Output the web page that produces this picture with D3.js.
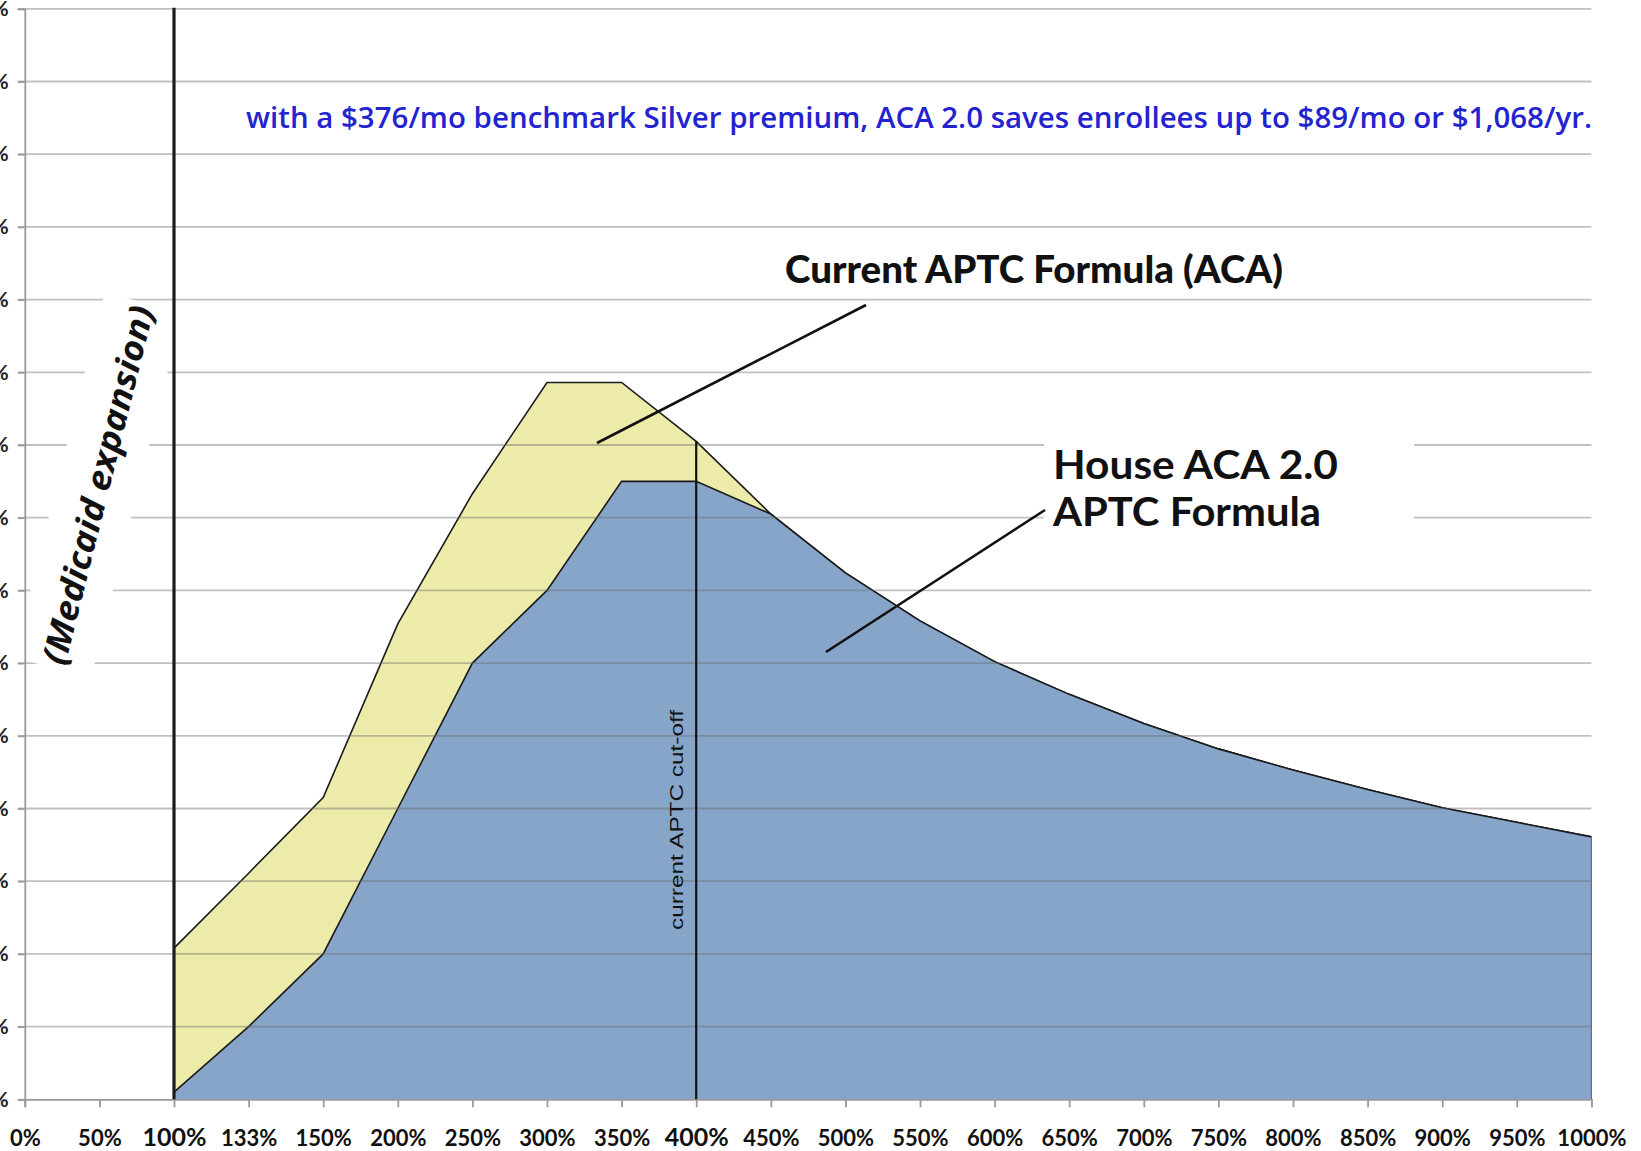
<!DOCTYPE html>
<html>
<head>
<meta charset="utf-8">
<script src="https://cdn.jsdelivr.net/npm/d3@7"></script>
<style>
  body { margin: 0; background: #fff; }
  svg { display: block; }
</style>
</head>
<body>
<div id="chart"></div>
<script>
// Income as % of poverty level (bottom axis categories)
var categories = ["0%", "50%", "100%", "133%", "150%", "200%", "250%", "300%", "350%", "400%", "450%",
  "500%", "550%", "600%", "650%", "700%", "750%", "800%", "850%", "900%", "950%", "1000%"];

// Current APTC formula (ACA) - yellow
var currentAca = [null, null, 2.08, 3.11, 4.15, 6.54, 8.33, 9.86, 9.86, 9.05, 8.05,
  7.24, 6.58, 6.02, 5.57, 5.17, 4.82, 4.53, 4.26, 4.01, 3.81, 3.61];

// House ACA 2.0 APTC formula - blue
var houseAca2 = [null, null, 0.1, 1.0, 2.0, 4.0, 6.0, 7.0, 8.5, 8.5, 8.05,
  7.24, 6.58, 6.02, 5.57, 5.17, 4.82, 4.53, 4.26, 4.01, 3.81, 3.61];

var yTickValues = [0, 1, 2, 3, 4, 5, 6, 7, 8, 9, 10, 11, 12, 13, 14, 15];
var bigLabels = ["100%", "400%"];

var svgWidth = 1641;
var svgHeight = 1151;

var margin = {
  top: 8.8,
  right: 49.6,
  bottom: 51.7,
  left: 24.8
};

var width = svgWidth - margin.left - margin.right;
var height = svgHeight - margin.top - margin.bottom;

var svg = d3.select("#chart")
  .append("svg")
  .attr("width", svgWidth)
  .attr("height", svgHeight)
  .style("background", "#fff");

// layers: plot back, white text boxes, plot front, annotations
var chartGroup = svg.append("g")
  .attr("transform", `translate(${margin.left}, ${margin.top})`);
var boxGroup = svg.append("g");
var frontGroup = svg.append("g")
  .attr("transform", `translate(${margin.left}, ${margin.top})`);
var noteGroup = svg.append("g");

// scales
var xScale = d3.scalePoint()
  .domain(categories)
  .range([0, width]);

var yScale = d3.scaleLinear()
  .domain([0, 15])
  .range([height, 0]);

function rows(values) {
  return categories.map(function(c, i) { return { cat: c, v: values[i] }; });
}

var area = d3.area()
  .defined(function(d) { return d.v != null; })
  .x(function(d) { return xScale(d.cat); })
  .y0(height)
  .y1(function(d) { return yScale(d.v); });

var topLine = d3.line()
  .defined(function(d) { return d.v != null; })
  .x(function(d) { return xScale(d.cat); })
  .y(function(d) { return yScale(d.v); });

// yellow area behind, blue in front
chartGroup.append("path")
  .datum(rows(currentAca))
  .attr("d", area)
  .attr("fill", "#ECEBAA");
chartGroup.append("path")
  .datum(rows(currentAca))
  .attr("d", topLine)
  .attr("fill", "none")
  .attr("stroke", "#1a1a1a")
  .attr("stroke-width", 1.6);

chartGroup.append("path")
  .datum(rows(houseAca2))
  .attr("d", area)
  .attr("fill", "#87A5C9");
chartGroup.append("path")
  .datum(rows(houseAca2))
  .attr("d", topLine)
  .attr("fill", "none")
  .attr("stroke", "#1a1a1a")
  .attr("stroke-width", 1.6);

// right edge of the blue area
chartGroup.append("line")
  .attr("x1", xScale("1000%")).attr("x2", xScale("1000%"))
  .attr("y1", yScale(houseAca2[houseAca2.length - 1])).attr("y2", height)
  .attr("stroke", "#5a6f8a")
  .attr("stroke-width", 1.2);

// gridlines (drawn over the areas, semi transparent)
chartGroup.append("g")
  .selectAll("line")
  .data(yTickValues.slice(1))
  .enter()
  .append("line")
  .attr("x1", -7)
  .attr("x2", width)
  .attr("y1", function(d) { return yScale(d); })
  .attr("y2", function(d) { return yScale(d); })
  .attr("stroke", "rgb(105,105,105)")
  .attr("stroke-opacity", 0.42)
  .attr("stroke-width", 1.8);

// white text boxes that hide the gridlines
var medCx = 98, medCy = 485, medAngle = -76;
boxGroup.append("rect")
  .attr("x", -188).attr("y", -40)
  .attr("width", 376).attr("height", 80)
  .attr("fill", "#fff")
  .attr("transform", `translate(${medCx},${medCy}) rotate(${medAngle})`);

boxGroup.append("rect")
  .attr("x", 1044).attr("y", 405)
  .attr("width", 370).attr("height", 150)
  .attr("fill", "#fff");

// y axis (labels cut off at the left edge, as in the original)
var leftAxis = d3.axisLeft(yScale)
  .tickValues(yTickValues)
  .tickSize(7)
  .tickPadding(9)
  .tickFormat(function(d) { return d + "%"; });

var yAxis = frontGroup.append("g")
  .attr("class", "y axis")
  .call(leftAxis);
yAxis.select(".domain").attr("stroke", "#9a9a9a").attr("stroke-width", 1.8);
yAxis.selectAll(".tick line").attr("stroke", "#9a9a9a").attr("stroke-width", 1.8);
yAxis.selectAll("text")
  .attr("font-family", "Lato, 'Open Sans', sans-serif")
  .attr("font-weight", 700)
  .attr("font-size", 21)
  .attr("fill", "#222");

// x axis
var bottomAxis = d3.axisBottom(xScale)
  .tickSize(8)
  .tickPadding(0);

var xAxis = frontGroup.append("g")
  .attr("class", "x axis")
  .attr("transform", "translate(0," + height + ")")
  .call(bottomAxis);
xAxis.select(".domain").attr("stroke", "#9a9a9a").attr("stroke-width", 1.8);
xAxis.selectAll(".tick line").attr("stroke", "#9a9a9a").attr("stroke-width", 1.8);
xAxis.selectAll("text")
  .attr("y", 47)
  .attr("dy", 0)
  .attr("font-family", "Lato, 'Open Sans', sans-serif")
  .attr("font-weight", 700)
  .attr("font-size", function(d) { return bigLabels.indexOf(d) >= 0 ? 25 : 22; })
  .attr("fill", "#111");

// Medicaid expansion line at 100%
frontGroup.append("line")
  .attr("x1", xScale("100%")).attr("x2", xScale("100%"))
  .attr("y1", yScale(15) - 1).attr("y2", height)
  .attr("stroke", "#1c1c1c")
  .attr("stroke-width", 3.2);

// current APTC cut-off at 400%
frontGroup.append("line")
  .attr("x1", xScale("400%")).attr("x2", xScale("400%"))
  .attr("y1", yScale(currentAca[categories.indexOf("400%")])).attr("y2", height)
  .attr("stroke", "#111")
  .attr("stroke-width", 2.2);

// leader lines
noteGroup.append("line")
  .attr("x1", 866).attr("y1", 305).attr("x2", 597).attr("y2", 443)
  .attr("stroke", "#111").attr("stroke-width", 2.6);
noteGroup.append("line")
  .attr("x1", 1045).attr("y1", 510).attr("x2", 826).attr("y2", 652)
  .attr("stroke", "#111").attr("stroke-width", 2.6);

// texts
noteGroup.append("text")
  .attr("x", 246)
  .attr("y", 128)
  .attr("textLength", 1346)
  .attr("lengthAdjust", "spacingAndGlyphs")
  .attr("font-family", "'Open Sans', sans-serif")
  .attr("font-weight", 600)
  .attr("font-size", 29)
  .attr("fill", "#2323CF")
  .text("with a $376/mo benchmark Silver premium, ACA 2.0 saves enrollees up to $89/mo or $1,068/yr.");

noteGroup.append("text")
  .attr("x", 785)
  .attr("y", 283)
  .attr("textLength", 498)
  .attr("lengthAdjust", "spacingAndGlyphs")
  .attr("font-family", "Lato, sans-serif")
  .attr("font-weight", 900)
  .attr("font-size", 37)
  .attr("fill", "#111")
  .text("Current APTC Formula (ACA)");

noteGroup.append("text")
  .attr("x", 1053)
  .attr("y", 479)
  .attr("textLength", 285)
  .attr("lengthAdjust", "spacingAndGlyphs")
  .attr("font-family", "Lato, sans-serif")
  .attr("font-weight", 700)
  .attr("font-size", 40)
  .attr("fill", "#111")
  .text("House ACA 2.0");

noteGroup.append("text")
  .attr("x", 1053)
  .attr("y", 526)
  .attr("textLength", 268)
  .attr("lengthAdjust", "spacingAndGlyphs")
  .attr("font-family", "Lato, sans-serif")
  .attr("font-weight", 700)
  .attr("font-size", 40)
  .attr("fill", "#111")
  .text("APTC Formula");

noteGroup.append("text")
  .attr("transform", `translate(${medCx},${medCy}) rotate(${medAngle})`)
  .attr("text-anchor", "middle")
  .attr("dy", "0.35em")
  .attr("textLength", 368)
  .attr("lengthAdjust", "spacingAndGlyphs")
  .attr("font-family", "'Open Sans', sans-serif")
  .attr("font-weight", 700)
  .attr("font-style", "italic")
  .attr("font-size", 34)
  .attr("fill", "#111")
  .text("(Medicaid expansion)");

noteGroup.append("text")
  .attr("transform", "translate(683,820) rotate(-90)")
  .attr("text-anchor", "middle")
  .attr("textLength", 220)
  .attr("lengthAdjust", "spacingAndGlyphs")
  .attr("font-family", "'Liberation Sans', Arial, sans-serif")
  .attr("font-size", 18)
  .attr("fill", "#111")
  .text("current APTC cut-off");
</script>
</body>
</html>
